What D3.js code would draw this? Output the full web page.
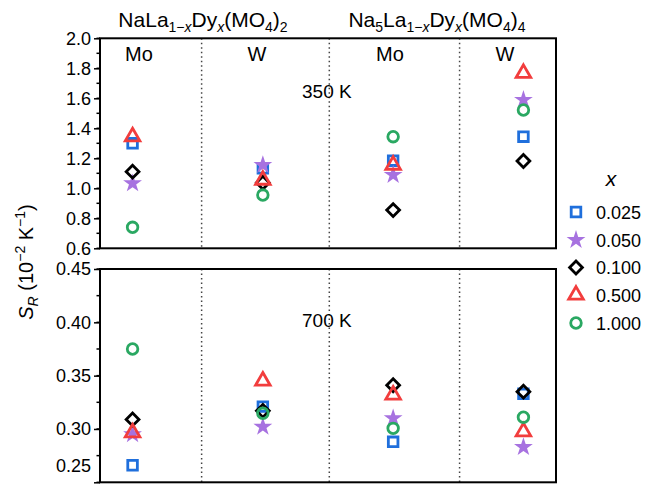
<!DOCTYPE html>
<html><head><meta charset="utf-8">
<script src="https://cdn.jsdelivr.net/npm/d3@7/dist/d3.min.js"></script>
<style>body{margin:0;background:#fff;} text{font-family:"Liberation Sans",Arial,sans-serif;}</style>
</head><body><svg id="c" width="651" height="489"></svg>
<script>
// ---- data ----
const groups = ["Mo", "W", "Mo", "W"];
const groupPos = [1, 2, 3, 4];
const series = ["0.025", "0.050", "0.100", "0.500", "1.000"];
const colors = ["#1f6fdc", "#a772e0", "#000000", "#f23d3d", "#2aa862"];
const shapes = ["square", "star", "diamond", "triangle", "circle"];
// S_R at 350 K, per series, per group (Mo, W, Mo, W)
const s350_0025 = [1.30, 1.133, 1.184, 1.344];
const s350_0050 = [1.033, 1.155, 1.089, 1.589];
const s350_0100 = [1.111, 1.037, 0.855, 1.182];
const s350_0500 = [1.344, 1.055, 1.155, 1.767];
const s350_1000 = [0.740, 0.955, 1.344, 1.522];
// S_R at 700 K
const s700_0025 = [0.266, 0.321, 0.288, 0.333];
const s700_0050 = [0.295, 0.302, 0.310, 0.283];
const s700_0100 = [0.309, 0.317, 0.341, 0.335];
const s700_0500 = [0.2965, 0.345, 0.332, 0.2975];
const s700_1000 = [0.375, 0.3147, 0.3006, 0.311];
const topTicks = [0.6, 0.8, 1.0, 1.2, 1.4, 1.6, 1.8, 2.0];
const botTicks = [0.25, 0.30, 0.35, 0.40, 0.45];
const dividers = [1.53, 2.51, 3.51];

const top350 = [s350_0025, s350_0050, s350_0100, s350_0500, s350_1000];
const bot700 = [s700_0025, s700_0050, s700_0100, s700_0500, s700_1000];

const svg = d3.select("#c");
const L = 100, R = 556;
const x = d3.scaleLinear().domain([0.75, 4.25]).range([L, R]);
const yT = d3.scaleLinear().domain([0.6, 2.0]).range([248.3, 38.3]);
const yB = d3.scaleLinear().domain([0.25, 0.45]).range([482.3, 269]);

function symPath(shape) {
  if (shape === "square") return d3.symbol(d3.symbolSquare, 92)();
  if (shape === "star") return d3.symbol(d3.symbolStar, 110)();
  if (shape === "diamond") return d3.symbol(d3.symbolSquare, 82)();
  if (shape === "triangle") return d3.symbol(d3.symbolTriangle, 92)();
  return d3.symbol(d3.symbolCircle, 88)();
}
function drawMarker(g, shape, color, cx, cy) {
  const p = g.append("path").attr("d", symPath(shape))
    .attr("transform", `translate(${cx},${cy})` + (shape === "diamond" ? " rotate(45)" : ""));
  if (shape === "star") p.attr("fill", color).attr("stroke", "none");
  else p.attr("fill", "none").attr("stroke", color).attr("stroke-width", 2.8).attr("stroke-linejoin", "miter");
}

function panel(y, ticks, fmt, minorStep, data, label, labelY) {
  const g = svg.append("g");
  const [y0, y1] = y.range();
  dividers.forEach(d => {
    g.append("line").attr("x1", x(d)).attr("x2", x(d)).attr("y1", y1).attr("y2", y0)
      .attr("stroke", "#444").attr("stroke-width", 1.5).attr("stroke-dasharray", "1.5,3");
  });
  const dom = y.domain();
  const minors = d3.range(Math.round((dom[1] - dom[0]) / minorStep) + 1).map(i => dom[0] + i * minorStep);
  g.selectAll(".mn").data(minors).join("line")
    .attr("x1", L - 3.5).attr("x2", L).attr("y1", d => y(d)).attr("y2", d => y(d))
    .attr("stroke", "#000").attr("stroke-width", 1.5);
  const ax = g.append("g").attr("transform", `translate(${L},0)`)
    .call(d3.axisLeft(y).tickValues(ticks).tickFormat(fmt).tickSize(6).tickPadding(3));
  ax.select(".domain").remove();
  ax.selectAll("line").attr("stroke-width", 1.5);
  ax.selectAll("text").attr("font-size", 18).attr("fill", "#000").attr("font-family", "Liberation Sans, Arial, sans-serif");
  data.forEach((vals, si) => {
    vals.forEach((v, gi) => drawMarker(g, shapes[si], colors[si], x(groupPos[gi]), y(v)));
  });
  g.append("rect").attr("x", L).attr("y", y1).attr("width", R - L).attr("height", y0 - y1)
    .attr("fill", "none").attr("stroke", "#000").attr("stroke-width", 2);
  g.append("text").attr("x", 302).attr("y", labelY).attr("font-size", 19).text(label);
  return ax;
}

panel(yT, topTicks, d3.format(".1f"), 0.1, top350, "350 K", 98);
const axB = panel(yB, botTicks, d3.format(".2f"), 0.025, bot700, "700 K", 327);
// lowest label sits inside the picture, as in the reference
axB.selectAll(".tick").filter(d => d === 0.25).select("text").attr("dy", "-0.6em");

// group labels
const glabelX = [139, 257, 390, 505];
groups.forEach((t, i) => {
  svg.append("text").attr("x", glabelX[i]).attr("y", 61).attr("text-anchor", "middle")
    .attr("font-size", 20).text(t);
});

// compound titles
function title(cx, parts) {
  const t = svg.append("text").attr("x", cx).attr("y", 27).attr("text-anchor", "middle").attr("font-size", 21);
  parts.forEach(p => {
    const ts = t.append("tspan").text(p.t);
    if (p.small) ts.attr("font-size", 14);
    if (p.dy) ts.attr("dy", p.dy);
    if (p.i) ts.attr("font-style", "italic");
  });
}
title(203, [{t:"NaLa"},{t:"1−",small:1,dy:5},{t:"x",small:1,i:1},{t:"Dy",dy:-5},{t:"x",small:1,i:1,dy:5},
  {t:"(MO",dy:-5},{t:"4",small:1,dy:5},{t:")",dy:-5},{t:"2",small:1,dy:5}]);
title(437, [{t:"Na"},{t:"5",small:1,dy:5},{t:"La",dy:-5},{t:"1−",small:1,dy:5},{t:"x",small:1,i:1},{t:"Dy",dy:-5},
  {t:"x",small:1,i:1,dy:5},{t:"(MO",dy:-5},{t:"4",small:1,dy:5},{t:")",dy:-5},{t:"4",small:1,dy:5}]);

// y label
const yl = svg.append("text").attr("transform", "translate(33,262) rotate(-90)")
  .attr("text-anchor", "middle").attr("font-size", 20);
yl.append("tspan").attr("font-style", "italic").text("S");
yl.append("tspan").attr("font-style", "italic").attr("font-size", 14).attr("dy", 5).text("R");
yl.append("tspan").attr("dy", -5).text(" (10");
yl.append("tspan").attr("font-size", 14).attr("dy", -8).text("−2");
yl.append("tspan").attr("dy", 8).text(" K");
yl.append("tspan").attr("font-size", 14).attr("dy", -8).text("−1");
yl.append("tspan").attr("dy", 8).text(")");

// legend
svg.append("text").attr("x", 611).attr("y", 186).attr("text-anchor", "middle")
  .attr("font-size", 21).attr("font-style", "italic").text("x");
const legY = [212, 240, 267.5, 295, 323];
series.forEach((s, i) => {
  drawMarker(svg, shapes[i], colors[i], 576, legY[i]);
  svg.append("text").attr("x", 596).attr("y", legY[i] + 6.5).attr("font-size", 18).text(s);
});
</script></body></html>
